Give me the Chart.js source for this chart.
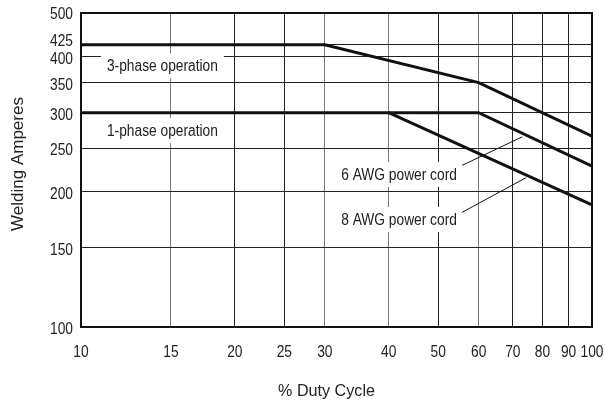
<!DOCTYPE html>
<html>
<head>
<meta charset="utf-8">
<script src="https://cdn.jsdelivr.net/npm/chart.js@4"></script>
<style>
  body { margin: 0; background: #fff; }
  #wrap { width: 605px; height: 402px; }
</style>
</head>
<body>
<div id="wrap"><canvas id="chart"></canvas></div>
<script>
// axis ticks
const xTicks = [10, 15, 20, 25, 30, 40, 50, 60, 70, 80, 90, 100];
const yTicks = [100, 150, 200, 250, 300, 350, 400, 425, 500];

// rating curves (duty cycle %, amperes)
const threePhaseX = [10, 30, 60, 100];
const threePhaseY = [425, 425, 350, 266];
const awg6X = [10, 60, 100];
const awg6Y = [300, 300, 228];
const awg8X = [40, 100];
const awg8Y = [300, 187];

// leader lines from the cord labels
const lead6X = [55.7, 73];
const lead6Y = [229, 265];
const lead8X = [55.7, 74.3];
const lead8Y = [180, 215];

const FONT = "'Liberation Sans', Arial, sans-serif";
const TEXT = "#222";
const SX = 0.86; // squeeze to look like a condensed face

function pts(xs, ys) {
  return xs.map((x, i) => ({ x: x, y: ys[i] }));
}

function squeezed(ctx, text, x, y, align, sx) {
  ctx.save();
  ctx.translate(x, y);
  ctx.scale(sx, 1);
  ctx.textAlign = align;
  ctx.textBaseline = "alphabetic";
  ctx.fillText(text, 0, 0);
  ctx.restore();
}

// text labels inside the plot, anchored (baseline) in data units
const notes = [
  { text: "3-phase operation", x: 11.24, y: 371, align: "left" },
  { text: "1-phase operation", x: 11.24, y: 266, align: "left" },
  { text: "6 AWG power cord", x: 54.4, y: 212.6, align: "right" },
  { text: "8 AWG power cord", x: 54.4, y: 168.7, align: "right" }
];

const extras = {
  id: "extras",
  beforeDatasetsDraw(chart) {
    const { ctx, scales } = chart;
    ctx.save();
    ctx.font = "16px " + FONT;
    notes.forEach(n => {
      const px = scales.x.getPixelForValue(n.x);
      const py = scales.y.getPixelForValue(n.y);
      const w = ctx.measureText(n.text).width * SX;
      const left = n.align === "left" ? px : px - w;
      ctx.fillStyle = "#fff";
      ctx.fillRect(left - 6, py - 18, w + 12, 25);
      ctx.fillStyle = TEXT;
      squeezed(ctx, n.text, px, py, n.align, SX);
    });
    ctx.restore();
  },
  afterDraw(chart) {
    const { ctx, chartArea: a, scales } = chart;
    ctx.save();
    ctx.strokeStyle = "#111";
    ctx.lineWidth = 2;
    ctx.strokeRect(a.left, a.top, a.right - a.left, a.bottom - a.top);

    ctx.fillStyle = TEXT;
    ctx.font = "16px " + FONT;
    // tick labels
    scales.x.ticks.forEach(t => {
      squeezed(ctx, String(t.value), scales.x.getPixelForValue(t.value), 357, "center", SX);
    });
    scales.y.ticks.forEach(t => {
      let off = 7;
      if (t.value === 500) off = 6;
      if (t.value === 425) off = 1;
      squeezed(ctx, String(t.value), a.left - 8, scales.y.getPixelForValue(t.value) + off, "right", SX);
    });

    // axis titles
    ctx.font = "17px " + FONT;
    squeezed(ctx, "% Duty Cycle", 326.5, 396, "center", 0.95);
    ctx.translate(23, 164);
    ctx.rotate(-Math.PI / 2);
    squeezed(ctx, "Welding Amperes", 0, 0, "center", 1);
    ctx.restore();
  }
};

const curve = (xs, ys, w) => ({
  data: pts(xs, ys),
  showLine: true,
  borderColor: "#111",
  borderWidth: w,
  pointRadius: 0,
  fill: false,
  tension: 0
});

const grayX = [15, 30, 40, 60];

new Chart(document.getElementById("chart"), {
  type: "scatter",
  data: {
    datasets: [
      curve(threePhaseX, threePhaseY, 3),
      curve(awg6X, awg6Y, 3),
      curve(awg8X, awg8Y, 3),
      curve(lead6X, lead6Y, 1),
      curve(lead8X, lead8Y, 1)
    ]
  },
  options: {
    responsive: true,
    maintainAspectRatio: false,
    animation: false,
    layout: { padding: { top: 13, right: 13, left: 0, bottom: 0 } },
    plugins: { legend: { display: false }, tooltip: { enabled: false } },
    scales: {
      x: {
        type: "logarithmic",
        min: 10,
        max: 100,
        afterBuildTicks: s => { s.ticks = xTicks.map(v => ({ value: v })); },
        afterFit: s => { s.height = 75; },
        grid: {
          color: c => (c.tick && grayX.includes(c.tick.value)) ? "#777" : "#222",
          lineWidth: 1,
          drawTicks: false
        },
        border: { display: false },
        ticks: { display: false }
      },
      y: {
        type: "logarithmic",
        min: 100,
        max: 500,
        afterBuildTicks: s => { s.ticks = yTicks.map(v => ({ value: v })); },
        afterFit: s => { s.width = 81; },
        grid: { color: "#222", lineWidth: 1, drawTicks: false },
        border: { display: false },
        ticks: { display: false }
      }
    }
  },
  plugins: [extras]
});
</script>
</body>
</html>
